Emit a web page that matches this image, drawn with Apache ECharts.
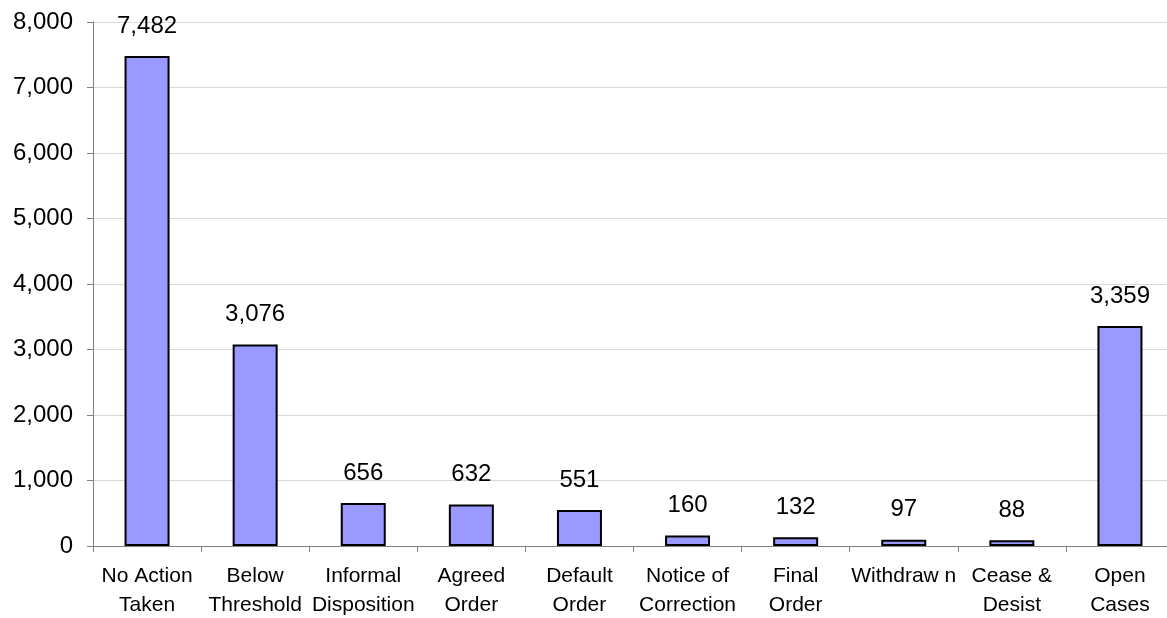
<!DOCTYPE html>
<html>
<head>
<meta charset="utf-8">
<script src="https://cdn.jsdelivr.net/npm/echarts@6/dist/echarts.min.js"></script>
<style>
  html, body { margin: 0; padding: 0; background: #fff; overflow: hidden; }
  #chart { width: 1167px; height: 618px; }
</style>
</head>
<body>
<div id="chart"></div>
<script>
// categories and counts
var categories = ['No Action\nTaken', 'Below\nThreshold', 'Informal\nDisposition', 'Agreed\nOrder', 'Default\nOrder',
  'Notice of\nCorrection', 'Final\nOrder', 'Withdraw n', 'Cease &\nDesist', 'Open\nCases'];
var counts = [7482, 3076, 656, 632, 551, 160, 132, 97, 88, 3359];

var myChart = echarts.init(document.getElementById('chart'));
myChart.setOption({
  animation: false,
  grid: {
    left: 93,
    top: 22,
    width: 1081,
    height: 524,
    outerBoundsMode: 'none'
  },
  xAxis: {
    type: 'category',
    data: categories,
    axisLine: { lineStyle: { color: '#808080', width: 1 } },
    axisTick: { show: true, length: 6, lineStyle: { color: '#808080' } },
    axisLabel: {
      color: '#000',
      fontFamily: 'Liberation Sans, Arial, sans-serif',
      fontSize: 21,
      lineHeight: 29,
      margin: 16,
      interval: 0
    }
  },
  yAxis: {
    type: 'value',
    min: 0,
    max: 8000,
    interval: 1000,
    axisLine: { show: true, lineStyle: { color: '#808080', width: 1 } },
    axisTick: { show: true, length: 6, lineStyle: { color: '#808080' } },
    splitLine: { lineStyle: { color: '#d9d9d9', width: 1 } },
    axisLabel: {
      color: '#000',
      fontFamily: 'Liberation Sans, Arial, sans-serif',
      fontSize: 24,
      margin: 20,
      formatter: function (v) { return v.toLocaleString('en-US'); }
    }
  },
  series: [{
    type: 'bar',
    data: counts,
    barWidth: 45,
    itemStyle: { color: '#9999ff', borderColor: '#000', borderWidth: 2 },
    label: {
      show: true,
      position: 'top',
      distance: 18,
      color: '#000',
      fontFamily: 'Liberation Sans, Arial, sans-serif',
      fontSize: 24,
      formatter: function (p) { return p.value.toLocaleString('en-US'); }
    }
  }]
});
</script>
</body>
</html>
